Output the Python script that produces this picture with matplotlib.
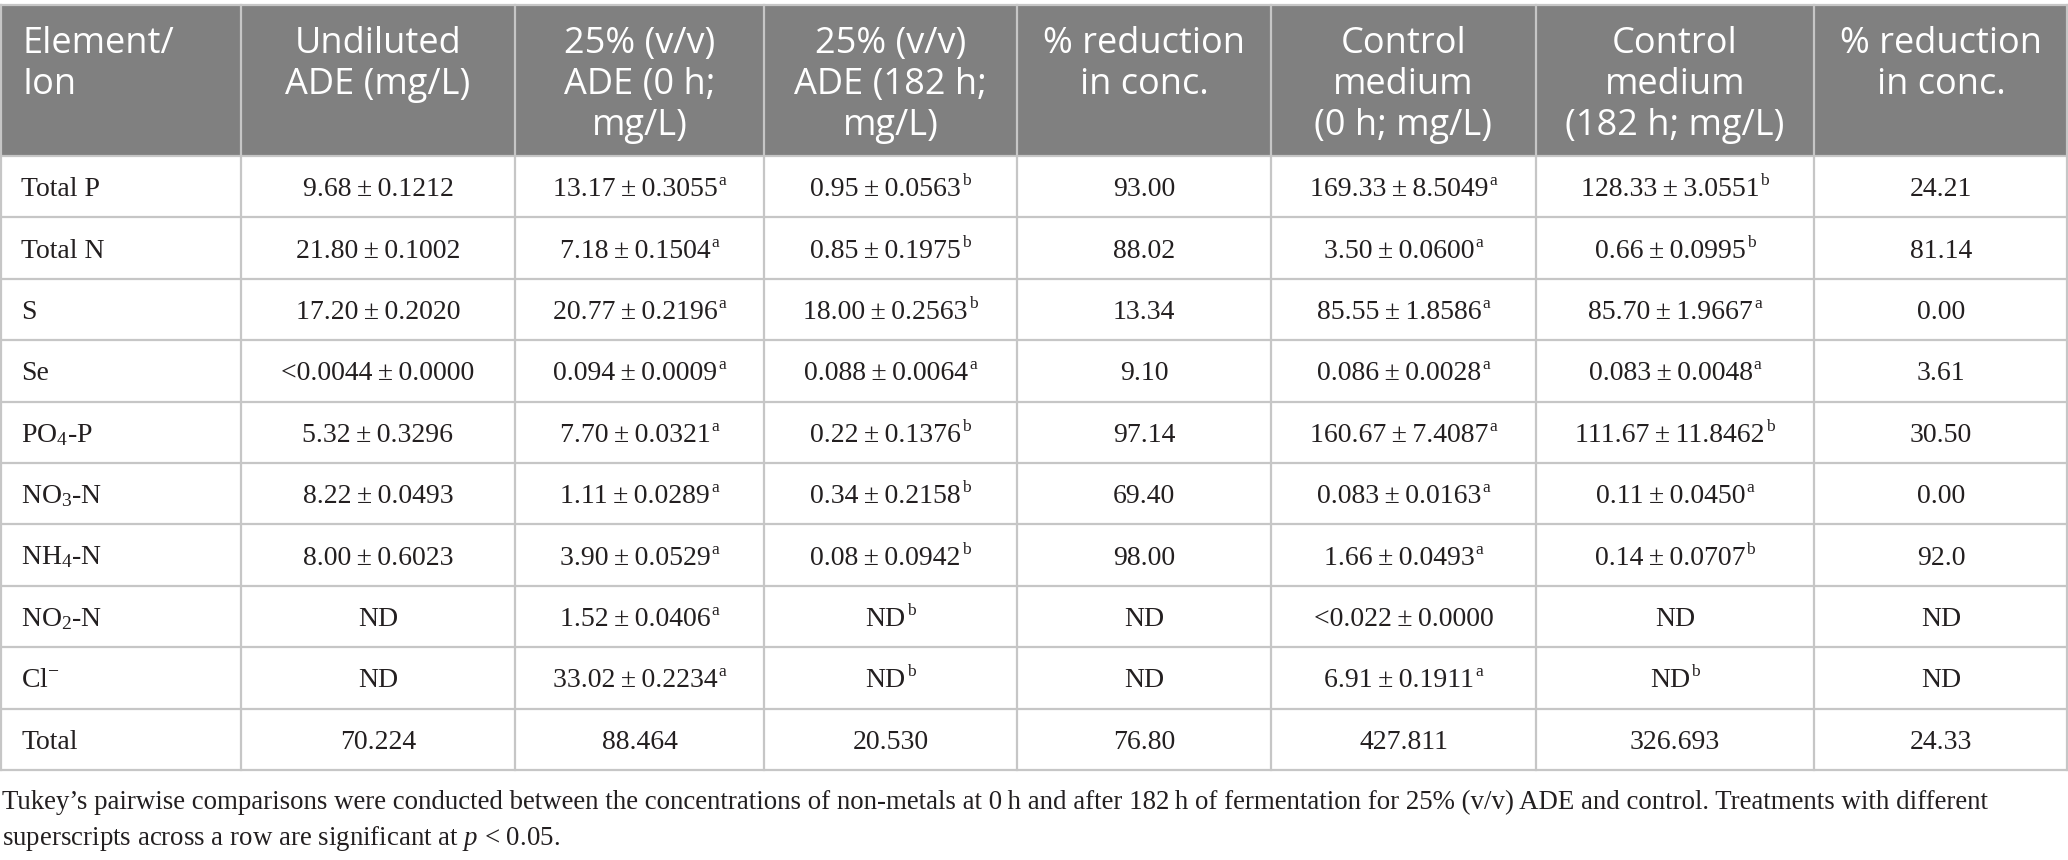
import matplotlib
matplotlib.use("Agg")
import matplotlib.pyplot as plt

plt.rcParams['mathtext.fontset'] = 'custom'
plt.rcParams['mathtext.rm'] = 'Liberation Serif'
plt.rcParams['mathtext.it'] = 'Liberation Serif:italic'
plt.rcParams['mathtext.bf'] = 'Liberation Serif:bold'

# ---------------- data ----------------
headers = [
    ["Element/", "Ion"],
    ["Undiluted", "ADE (mg/L)"],
    ["25% (v/v)", "ADE (0 h;", "mg/L)"],
    ["25% (v/v)", "ADE (182 h;", "mg/L)"],
    ["% reduction", "in conc."],
    ["Control", "medium", "(0 h; mg/L)"],
    ["Control", "medium", "(182 h; mg/L)"],
    ["% reduction", "in conc."],
]

elements = ["Total P", "Total N", "S", "Se", r"PO$_\mathrm{4}$-P", r"NO$_\mathrm{3}$-N",
            r"NH$_\mathrm{4}$-N", r"NO$_\mathrm{2}$-N", r"Cl$^{\mathrm{-}}$", "Total"]

undiluted = ["9.68 ± 0.1212", "21.80 ± 0.1002", "17.20 ± 0.2020", "<0.0044 ± 0.0000",
             "5.32 ± 0.3296", "8.22 ± 0.0493", "8.00 ± 0.6023", "ND", "ND", "70.224"]
undiluted_sup = ["", "", "", "", "", "", "", "", "", ""]

ade_0h = ["13.17 ± 0.3055", "7.18 ± 0.1504", "20.77 ± 0.2196", "0.094 ± 0.0009",
          "7.70 ± 0.0321", "1.11 ± 0.0289", "3.90 ± 0.0529", "1.52 ± 0.0406",
          "33.02 ± 0.2234", "88.464"]
ade_0h_sup = ["a", "a", "a", "a", "a", "a", "a", "a", "a", ""]

ade_182h = ["0.95 ± 0.0563", "0.85 ± 0.1975", "18.00 ± 0.2563", "0.088 ± 0.0064",
            "0.22 ± 0.1376", "0.34 ± 0.2158", "0.08 ± 0.0942", "ND", "ND", "20.530"]
ade_182h_sup = ["b", "b", "b", "a", "b", "b", "b", "b", "b", ""]

ade_reduction = ["93.00", "88.02", "13.34", "9.10", "97.14", "69.40", "98.00", "ND", "ND", "76.80"]
ade_reduction_sup = [""] * 10

control_0h = ["169.33 ± 8.5049", "3.50 ± 0.0600", "85.55 ± 1.8586", "0.086 ± 0.0028",
              "160.67 ± 7.4087", "0.083 ± 0.0163", "1.66 ± 0.0493", "<0.022 ± 0.0000",
              "6.91 ± 0.1911", "427.811"]
control_0h_sup = ["a", "a", "a", "a", "a", "a", "a", "", "a", ""]

control_182h = ["128.33 ± 3.0551", "0.66 ± 0.0995", "85.70 ± 1.9667", "0.083 ± 0.0048",
                "111.67 ± 11.8462", "0.11 ± 0.0450", "0.14 ± 0.0707", "ND", "ND", "326.693"]
control_182h_sup = ["b", "b", "a", "a", "b", "a", "b", "", "b", ""]

control_reduction = ["24.21", "81.14", "0.00", "3.61", "30.50", "0.00", "92.0", "ND", "ND", "24.33"]
control_reduction_sup = [""] * 10

caption_lines = [
    "Tukey’s pairwise comparisons were conducted between the concentrations of non-metals at 0\u2009h "
    "and after 182\u2009h of fermentation for 25% (v/v) ADE and control. Treatments with different",
    r"superscripts across a row are significant at $p$ < 0.05.",
]

# ---------------- layout ----------------
W, H = 2068, 860
col_edges = [0, 241, 515, 764, 1017, 1271, 1536, 1814, 2068]
table_top = 5
header_bottom = 156
table_bottom = 770
n_rows = len(elements)
row_h = (table_bottom - header_bottom) / n_rows

header_bg = "#808080"
grid_col = "#c6c6c6"
text_col = "#231f20"
header_font = "Open Sans"
body_font = "Liberation Serif"
header_size = 26
body_size = 20
sup_size = 12.5
sup_raise = 11
caption_size = 19.35

fig = plt.figure(figsize=(W / 100, H / 100), dpi=100)
ax = fig.add_axes([0, 0, 1, 1])
ax.set_xlim(0, W)
ax.set_ylim(H, 0)
ax.axis("off")
renderer = fig.canvas.get_renderer()

# header background
ax.add_patch(plt.Rectangle((0, table_top), W, header_bottom - table_top,
                           facecolor=header_bg, edgecolor="none", zorder=1))

# grid lines
lw = 1.6
ax.plot([0, W], [table_top, table_top], color=grid_col, lw=lw, zorder=3)
for i in range(n_rows + 1):
    y = header_bottom + i * row_h
    ax.plot([0, W], [y, y], color=grid_col, lw=lw, zorder=3)
for j, x in enumerate(col_edges):
    xx = min(max(x, 1), W - 1)
    ax.plot([xx, xx], [table_top, table_bottom], color=grid_col, lw=lw, zorder=2)

# header texts
baselines = [53, 94, 135]
for j, lines in enumerate(headers):
    for k, line in enumerate(lines):
        if j == 0:
            ax.text(col_edges[0] + 23, baselines[k], line, ha="left", va="baseline",
                    color="white", fontsize=header_size, family=header_font, zorder=4)
        else:
            xc = (col_edges[j] + col_edges[j + 1]) / 2
            ax.text(xc, baselines[k], line, ha="center", va="baseline",
                    color="white", fontsize=header_size, family=header_font, zorder=4)


def width_of(t):
    bb = t.get_window_extent(renderer=renderer)
    return bb.width


def cell(xc, yb, val, sup):
    val = val.replace(" ± ", "\u2009±\u2009")
    t = ax.text(xc, yb, val, ha="left", va="baseline", color=text_col,
                fontsize=body_size, family=body_font, zorder=4)
    wm = width_of(t)
    if sup:
        s = ax.text(xc, yb - sup_raise, sup, ha="left", va="baseline", color=text_col,
                    fontsize=sup_size, family=body_font, zorder=4)
        ws = width_of(s) + 1
    else:
        s, ws = None, 0
    x0 = xc - (wm + ws) / 2
    t.set_x(x0)
    if s is not None:
        s.set_x(x0 + wm + 1)


columns = [
    (undiluted, undiluted_sup),
    (ade_0h, ade_0h_sup),
    (ade_182h, ade_182h_sup),
    (ade_reduction, ade_reduction_sup),
    (control_0h, control_0h_sup),
    (control_182h, control_182h_sup),
    (control_reduction, control_reduction_sup),
]

for i in range(n_rows):
    yc = header_bottom + (i + 0.5) * row_h
    yb = yc + 9.5
    ax.text(col_edges[0] + 21, yb, elements[i], ha="left", va="baseline",
            color=text_col, fontsize=body_size, family=body_font, zorder=4)
    for j, (vals, sups) in enumerate(columns):
        xc = (col_edges[j + 1] + col_edges[j + 2]) / 2
        cell(xc, yb, vals[i], sups[i])

# caption
cap_baselines = [809, 845]
for k, line in enumerate(caption_lines):
    ax.text(2, cap_baselines[k], line, ha="left", va="baseline",
            color=text_col, fontsize=caption_size, family=body_font, zorder=4)

fig.savefig("out.png", dpi=100)
